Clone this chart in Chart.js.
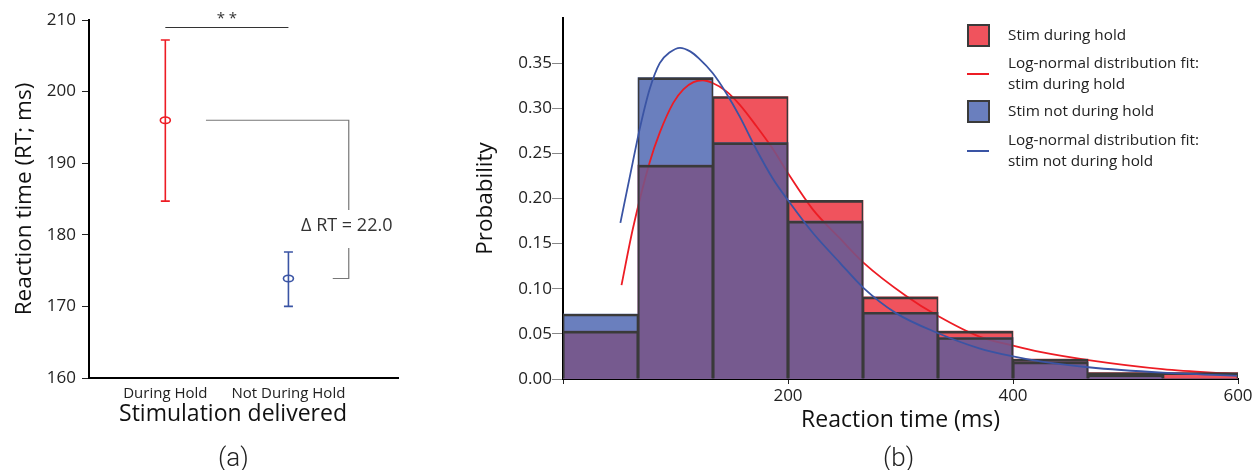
<!DOCTYPE html>
<html>
<head>
<meta charset="utf-8">
<script src="https://cdn.jsdelivr.net/npm/chart.js@4.4.1/dist/chart.umd.min.js"></script>
<style>
  body { margin: 0; background: #fff; width: 1260px; height: 470px; overflow: hidden; position: relative; }
  #wrapA { position: absolute; left: 0; top: 0; width: 430px; height: 470px; }
  #wrapB { position: absolute; left: 440px; top: 0; width: 820px; height: 470px; }
  .panel-label { position: absolute; top: 441px; font-family: Roboto, 'Liberation Sans', sans-serif; font-weight: 300; font-size: 26px; color: #222; line-height: 32px; }
</style>
</head>
<body>
<div id="wrapA"><canvas id="rtChart"></canvas></div>
<div id="wrapB"><canvas id="histChart"></canvas></div>
<div class="panel-label" style="left:218px">(a)</div>
<div class="panel-label" style="left:883px">(b)</div>
<script>
// panel (a): mean reaction time with error bars
const conditions = ['During Hold', 'Not During Hold'];
const rtMeans = [196.0, 173.9];
const rtLower = [184.7, 170.0];
const rtUpper = [207.2, 177.6];
const rtColors = ['#ED1C24', '#3A54A4'];
const deltaLabel = '\u0394 RT = 22.0';

// panel (b): reaction time histograms (probability per bin)
const binEdges = [0, 66.7, 133.3, 200, 266.7, 333.3, 400, 466.7, 533.3, 600];
const stimHold = [0.053, 0.237, 0.313, 0.198, 0.091, 0.053, 0.022, 0.007, 0.007];
const stimNotHold = [0.072, 0.334, 0.262, 0.175, 0.074, 0.046, 0.019, 0.0045, 0];

// log-normal fit curves
const fitHoldMs = [52, 62, 77, 86, 98, 107, 116, 124, 133, 145, 157, 172, 187, 200, 222, 246, 267, 305, 333, 370, 400, 424, 467, 533, 599];
const fitHoldProb = [0.104, 0.166, 0.240, 0.273, 0.306, 0.321, 0.329, 0.331, 0.328, 0.319, 0.304, 0.280, 0.254, 0.228, 0.188, 0.156, 0.129, 0.092, 0.070, 0.047, 0.037, 0.030, 0.021, 0.011, 0.0055];
const fitNotHoldMs = [51, 62, 68, 77, 86, 95, 104, 113, 121, 133, 145, 157, 172, 187, 200, 222, 246, 267, 296, 333, 370, 400, 424, 467, 533, 599];
const fitNotHoldProb = [0.173, 0.240, 0.276, 0.321, 0.350, 0.362, 0.367, 0.363, 0.355, 0.339, 0.317, 0.291, 0.254, 0.221, 0.198, 0.162, 0.129, 0.101, 0.073, 0.051, 0.034, 0.025, 0.0195, 0.013, 0.007, 0.0035];

const histColors = { hold: '#F0535D', notHold: '#6A7FBE', overlap: 'rgba(120,84,135,0.86)', edge: '#3a3a3a' };
const legendItems = [
    { kind: 'box', color: histColors.hold, text: ['Stim during hold'] },
    { kind: 'line', color: '#ED1C24', text: ['Log-normal distribution fit:', 'stim during hold'] },
    { kind: 'box', color: histColors.notHold, text: ['Stim not during hold'] },
    { kind: 'line', color: '#3A54A4', text: ['Log-normal distribution fit:', 'stim not during hold'] }
];

const baseFont = "'Open Sans', 'Noto Sans', sans-serif";
Chart.defaults.font.family = baseFont;
Chart.defaults.color = '#222';
Chart.defaults.animation = false;

// error bars, markers and significance brackets for panel (a)
const rtAnnotations = {
    id: 'rtAnnotations',
    afterDatasetsDraw(chart) {
        const { ctx, scales: { x, y } } = chart;
        ctx.save();
        conditions.forEach((c, i) => {
            const px = x.getPixelForValue(i);
            ctx.strokeStyle = rtColors[i];
            ctx.lineWidth = 1.6;
            ctx.beginPath();
            ctx.moveTo(px, y.getPixelForValue(rtUpper[i]));
            ctx.lineTo(px, y.getPixelForValue(rtLower[i]));
            [rtUpper[i], rtLower[i]].forEach(v => {
                const py = y.getPixelForValue(v);
                ctx.moveTo(px - 4.5, py);
                ctx.lineTo(px + 4.5, py);
            });
            ctx.stroke();
            ctx.beginPath();
            ctx.ellipse(px, y.getPixelForValue(rtMeans[i]), 5, 3.3, 0, 0, Math.PI * 2);
            ctx.stroke();
        });

        // ** bar
        const x0 = x.getPixelForValue(0), x1 = x.getPixelForValue(1);
        ctx.strokeStyle = '#333';
        ctx.lineWidth = 1;
        ctx.beginPath();
        ctx.moveTo(x0, 27.5);
        ctx.lineTo(x1, 27.5);
        ctx.stroke();
        ctx.fillStyle = '#333';
        ctx.font = '15px ' + baseFont;
        ctx.textAlign = 'center';
        ctx.textBaseline = 'middle';
        ctx.fillText('* *', (x0 + x1) / 2, 19);

        // delta bracket
        const yTop = y.getPixelForValue(rtMeans[0]);
        const yBot = y.getPixelForValue(rtMeans[1]);
        const bx = x.getPixelForValue(1.49);
        const textY = 226;
        ctx.strokeStyle = '#777';
        ctx.lineWidth = 1.2;
        ctx.beginPath();
        ctx.moveTo(x.getPixelForValue(0.33), yTop);
        ctx.lineTo(bx, yTop);
        ctx.lineTo(bx, textY - 16);
        ctx.moveTo(bx, textY + 22);
        ctx.lineTo(bx, yBot);
        ctx.lineTo(x.getPixelForValue(1.36), yBot);
        ctx.stroke();
        ctx.fillStyle = '#333';
        ctx.font = '18px ' + baseFont;
        ctx.fillText(deltaLabel, bx - 2, textY);

        // x title sits a little left of the axis centre in the original
        ctx.fillStyle = '#111';
        ctx.font = '23px ' + baseFont;
        ctx.fillText('Stimulation delivered', 233, 414);
        ctx.restore();
    }
};

new Chart(document.getElementById('rtChart'), {
    type: 'scatter',
    data: {
        datasets: [{
            data: rtMeans.map((m, i) => ({ x: i, y: m })),
            pointRadius: 0
        }]
    },
    options: {
        responsive: true,
        maintainAspectRatio: false,
        layout: { padding: { left: 0, right: 32, top: 20, bottom: 0 } },
        plugins: { legend: { display: false }, tooltip: { enabled: false } },
        scales: {
            x: {
                type: 'linear',
                min: -0.62,
                max: 1.89,
                afterBuildTicks: axis => { axis.ticks = [0, 1].map(v => ({ value: v })); },
                afterFit: scale => { scale.height = 92; },
                ticks: { callback: v => conditions[v] ?? '', font: { size: 15 }, color: '#222', padding: 7, maxRotation: 0 },
                grid: { display: false, drawTicks: false },
                border: { color: '#000', width: 2 },
                title: { display: false, text: 'Stimulation delivered' }
            },
            y: {
                min: 160,
                max: 210,
                afterFit: scale => { scale.width = 89; },
                ticks: { stepSize: 10, font: { size: 17 }, color: '#222', padding: 6 },
                grid: { drawOnChartArea: false, tickLength: 7, color: '#222' },
                border: { color: '#000', width: 2 },
                title: { display: true, text: 'Reaction time (RT; ms)', font: { size: 22.5 }, color: '#111', padding: { top: 11, bottom: 0 } }
            }
        }
    },
    plugins: [rtAnnotations]
});

// legend for panel (b)
const histLegend = {
    id: 'histLegend',
    afterDraw(chart) {
        const { ctx } = chart;
        const rows = [36, 74, 112, 151];
        ctx.save();
        ctx.font = '15.3px ' + baseFont;
        ctx.textBaseline = 'middle';
        ctx.textAlign = 'left';
        legendItems.forEach((item, i) => {
            const cy = rows[i];
            if (item.kind === 'box') {
                ctx.fillStyle = item.color;
                ctx.fillRect(528, cy - 11, 21, 21);
                ctx.strokeStyle = histColors.edge;
                ctx.lineWidth = 2;
                ctx.strokeRect(528, cy - 11, 21, 21);
            } else {
                ctx.strokeStyle = item.color;
                ctx.lineWidth = 2;
                ctx.beginPath();
                ctx.moveTo(527, cy);
                ctx.lineTo(549, cy);
                ctx.stroke();
            }
            ctx.fillStyle = '#222';
            const n = item.text.length;
            item.text.forEach((t, k) => {
                ctx.fillText(t, 568, cy + (k - (n - 1) / 2) * 20.5);
            });
        });
        ctx.restore();
    }
};

const binCenters = binEdges.slice(0, -1).map((e, i) => (e + binEdges[i + 1]) / 2);
const overlap = stimHold.map((v, i) => Math.min(v, stimNotHold[i]));
const toPoints = vals => vals.map((v, i) => ({ x: binCenters[i], y: v }));
const outline = { top: 2, left: 1, right: 1, bottom: 0 };

new Chart(document.getElementById('histChart'), {
    type: 'bar',
    data: {
        datasets: [
            { label: 'Stim during hold', data: toPoints(stimHold), backgroundColor: histColors.hold, borderWidth: 0, order: 6 },
            { label: 'Stim not during hold', data: toPoints(stimNotHold), backgroundColor: histColors.notHold, borderWidth: 0, order: 5 },
            {
                type: 'line', label: 'Log-normal fit: stim during hold',
                data: fitHoldMs.map((m, i) => ({ x: m, y: fitHoldProb[i] })),
                borderColor: '#ED1C24', borderWidth: 1.8, pointRadius: 0, cubicInterpolationMode: 'monotone', order: 4
            },
            { label: 'overlap', data: toPoints(overlap), backgroundColor: histColors.overlap, borderWidth: 0, order: 3 },
            { label: 'hold edge', data: toPoints(stimHold), backgroundColor: 'rgba(0,0,0,0)', borderColor: histColors.edge, borderWidth: outline, borderSkipped: false, order: 2 },
            { label: 'not hold edge', data: toPoints(stimNotHold), backgroundColor: 'rgba(0,0,0,0)', borderColor: histColors.edge, borderWidth: outline, borderSkipped: false, order: 1 },
            {
                type: 'line', label: 'Log-normal fit: stim not during hold',
                data: fitNotHoldMs.map((m, i) => ({ x: m, y: fitNotHoldProb[i] })),
                borderColor: '#3A54A4', borderWidth: 1.8, pointRadius: 0, cubicInterpolationMode: 'monotone', order: 0
            }
        ]
    },
    options: {
        responsive: true,
        maintainAspectRatio: false,
        grouped: false,
        barPercentage: 1,
        categoryPercentage: 1,
        layout: { padding: { left: 0, right: 22, top: 18, bottom: 0 } },
        plugins: { legend: { display: false }, tooltip: { enabled: false } },
        scales: {
            x: {
                type: 'linear',
                min: 0,
                max: 600,
                offset: false,
                afterBuildTicks: axis => { axis.ticks = [0, 200, 400, 600].map(v => ({ value: v })); },
                afterFit: scale => { scale.height = 91; },
                ticks: { callback: v => (v === 0 ? '' : v), font: { size: 17 }, color: '#222', padding: 2, maxRotation: 0 },
                grid: { drawOnChartArea: false, offset: false, tickLength: 5, color: '#222' },
                border: { color: '#000', width: 2 },
                title: { display: true, text: 'Reaction time (ms)', font: { size: 23 }, color: '#111', padding: { top: 0, bottom: 36 } }
            },
            y: {
                min: 0,
                max: 0.4,
                afterBuildTicks: axis => { axis.ticks = axis.ticks.filter(t => t.value < 0.375); },
                afterFit: scale => { scale.width = 123; },
                ticks: { stepSize: 0.05, callback: v => v.toFixed(2), font: { size: 17 }, color: '#222', padding: 0 },
                grid: { drawOnChartArea: false, tickLength: 11, color: '#888' },
                border: { color: '#000', width: 2 },
                title: { display: true, text: 'Probability', font: { size: 22.5 }, color: '#111', padding: { top: 32, bottom: 0 } }
            }
        }
    },
    plugins: [histLegend]
});
</script>
</body>
</html>
